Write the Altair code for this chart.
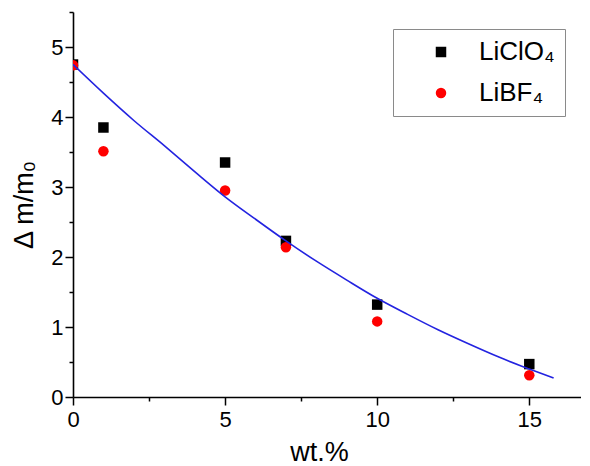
import altair as alt
import pandas as pd

series = ["LiClO₄", "LiBF₄"]
wt = [0, 1, 5, 7, 10, 15]
liclo4 = [4.75, 3.85, 3.35, 2.23, 1.32, 0.47]
libf4 = [4.74, 3.51, 2.95, 2.14, 1.08, 0.31]

fit_x = [0, 1, 2, 3, 4, 5, 6, 7, 8, 9, 10, 11, 12, 13, 14, 15, 15.8]
fit_y = [4.75, 4.34, 3.95, 3.59, 3.22, 2.86, 2.54, 2.23, 1.94, 1.67, 1.41, 1.18, 0.96, 0.76, 0.57, 0.40, 0.27]

x_major = [0, 5, 10, 15]
x_minor = [2.5, 7.5, 12.5]
y_major = [0, 1, 2, 3, 4, 5]
y_minor = [0.5, 1.5, 2.5, 3.5, 4.5, 5.5]

pts = pd.DataFrame({
    "wt": wt + wt,
    "val": liclo4 + libf4,
    "series": [series[0]] * len(wt) + [series[1]] * len(wt),
})
fit = pd.DataFrame({"wt": fit_x, "val": fit_y})

FONT = "Liberation Sans"
xscale = alt.Scale(domain=[0, 16.7], nice=False, zero=False)
yscale = alt.Scale(domain=[0, 5.5], nice=False, zero=False)

legend = alt.Legend(
    orient="none", legendX=320, legendY=17, title=None,
    strokeColor="#8a8a8a", fillColor="white", padding=10,
    labelFont=FONT, labelFontSize=26, labelColor="black",
    symbolSize=110, symbolOffset=25, labelOffset=25, rowPadding=15,
    symbolStrokeWidth=0,
)

points = alt.Chart(pts).mark_point(filled=True, opacity=1, size=110, clip=True).encode(
    x=alt.X("wt:Q", scale=xscale, axis=alt.Axis(
        values=x_major, title="wt.%", orient="bottom", tickSize=8, labelPadding=4,
        labelFlush=False, titlePadding=9, titleX=246, grid=False)),
    y=alt.Y("val:Q", scale=yscale, axis=alt.Axis(
        values=y_major, title="Δ m/m₀", orient="left", tickSize=8, labelPadding=2,
        labelFlush=False, titlePadding=12, grid=False)),
    color=alt.Color("series:N", scale=alt.Scale(domain=series, range=["black", "red"]), legend=legend),
    shape=alt.Shape("series:N", scale=alt.Scale(domain=series, range=["square", "circle"]), legend=legend),
    order=alt.Order("idx:Q"),
).transform_window(idx="row_number()")

line = alt.Chart(fit).mark_line(color="#2323e0", strokeWidth=1.6, interpolate="monotone", clip=True).encode(
    x=alt.X("wt:Q", scale=xscale, axis=alt.Axis(
        values=x_minor, labels=False, title=None, orient="bottom", tickSize=4,
        domain=False, grid=False)),
    y=alt.Y("val:Q", scale=yscale, axis=alt.Axis(
        values=y_minor, labels=False, title=None, orient="left", tickSize=4,
        domain=False, grid=False)),
)

chart = alt.layer(points, line).resolve_axis(x="independent", y="independent").properties(
    width=508, height=385,
    autosize=alt.AutoSizeParams(type="none"),
    padding={"left": 65, "top": 4, "right": 0, "bottom": 70},
).configure_view(stroke=None).configure_axis(
    labelFont=FONT, labelFontSize=22, labelColor="black",
    titleFont=FONT, titleFontSize=27, titleFontWeight="normal", titleColor="black",
    domainColor="black", domainWidth=1.6, tickColor="black", tickWidth=1.5,
)

chart.save("out.html", embed_options={"renderer": "svg", "actions": False})
